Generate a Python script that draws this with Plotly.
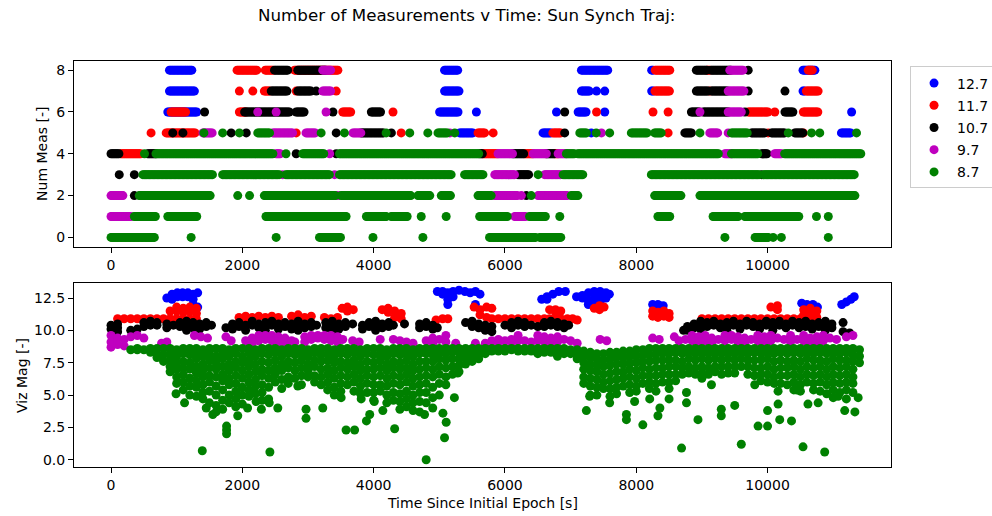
import plotly.graph_objects as go

# Limiting visual magnitudes and their plot colours
MAG_LIMITS = ["12.7", "11.7", "10.7", "9.7", "8.7"]
COLORS = ["#0000ff", "#ff0000", "#000000", "#bf00bf", "#008000"]

# Propagation step of the measurement-count history [s]
TIME_STEP = 20

# Number of measurements: runs of (start time [s], end time [s], count)
COUNT_RUNS_127 = [
    (890, 1245, 8), (5080, 5285, 8), (7165, 7570, 8), (8235, 8255, 8), (10540, 10720, 8),
    (890, 1270, 7), (5080, 5310, 7), (7165, 7290, 7), (7395, 7395, 7), (7520, 7520, 7),
    (8235, 8255, 7), (10540, 10560, 7),
    (865, 1320, 6), (5005, 5285, 6), (5565, 5565, 6), (6785, 6785, 6), (7115, 7240, 6),
    (7520, 7520, 6), (11280, 11280, 6),
    (5310, 5515, 5), (6580, 6705, 5), (7315, 7315, 5), (11125, 11280, 5),
]
COUNT_RUNS_117 = [
    (1920, 2225, 8), (2350, 2480, 8), (2795, 3455, 8), (8290, 8510, 8), (9080, 9130, 8),
    (10620, 10680, 8),
    (1955, 1955, 7), (2160, 2160, 7), (2335, 2420, 7), (2820, 2820, 7), (3430, 3430, 7),
    (8285, 8510, 7), (9120, 9120, 7), (10590, 10770, 7),
    (915, 1145, 6), (1955, 2060, 6), (3530, 3660, 6), (4295, 4295, 6), (7395, 7395, 6),
    (8255, 8255, 6), (8485, 8485, 6), (9705, 10010, 6), (10110, 10110, 6), (10545, 10770, 6),
    (610, 610, 5), (840, 1295, 5), (2820, 2820, 5), (4420, 4420, 5), (5590, 5690, 5),
    (5820, 5820, 5), (6730, 6860, 5), (8485, 8485, 5), (10010, 10010, 5), (10545, 10545, 5),
    (150, 460, 4), (5665, 5895, 4), (6300, 6430, 4), (6760, 6810, 4),
]
COUNT_RUNS_107 = [
    (2490, 2690, 8), (2845, 3275, 8), (8915, 9080, 8), (9140, 9440, 8), (9705, 9705, 8),
    (2440, 2690, 7), (2845, 3050, 7), (3125, 3125, 7), (8915, 9095, 7), (9145, 9400, 7),
    (9705, 9705, 7), (10265, 10265, 7),
    (1425, 1425, 6), (2035, 2720, 6), (2820, 2945, 6), (3380, 3380, 6), (3965, 4115, 6),
    (6910, 6910, 6), (8840, 8970, 6), (9020, 9400, 6), (9655, 9655, 6), (10265, 10390, 6),
    (940, 940, 5), (1095, 1095, 5), (1830, 1830, 5), (2060, 2060, 5), (3430, 3430, 5),
    (3810, 4165, 5), (4270, 4270, 5), (6910, 6910, 5), (8740, 8840, 5), (9755, 9960, 5),
    (10060, 10265, 5), (10415, 10545, 5),
    (0, 125, 4), (560, 685, 4), (2820, 2820, 4), (3430, 3430, 4), (5615, 5665, 4),
    (6125, 6300, 4), (6630, 6760, 4), (9910, 9990, 4),
    (125, 125, 3), (355, 355, 3), (6200, 6375, 3), (9910, 9910, 3),
    (355, 355, 2), (6325, 6325, 2),
]
COUNT_RUNS_97 = [
    (3225, 3355, 8), (9425, 9630, 8),
    (3225, 3355, 7), (9400, 9655, 7),
    (2235, 2235, 6), (2515, 2515, 6), (3275, 3275, 6), (8970, 8970, 6), (9400, 9605, 6),
    (1400, 1550, 5), (2465, 2770, 5), (2970, 3125, 5), (3685, 3810, 5), (5160, 5160, 5),
    (7470, 7470, 5), (9120, 9245, 5), (9400, 9400, 5),
    (2515, 2590, 4), (3330, 3330, 4), (5895, 6125, 4), (6430, 6630, 4), (6810, 6935, 4),
    (9350, 9450, 4), (10110, 10210, 4),
    (2615, 2615, 3), (3405, 3405, 3), (5845, 6150, 3), (6605, 6860, 3),
    (0, 180, 2), (3455, 3455, 2), (5845, 6200, 2), (6250, 6250, 2), (6505, 6960, 2),
    (0, 305, 1), (6150, 6325, 1),
]
COUNT_RUNS_87 = [
    (1415, 1415, 5), (1700, 1700, 5), (1955, 1955, 5), (2235, 2415, 5), (3200, 3200, 5),
    (3555, 3555, 5), (4190, 4190, 5), (4550, 4550, 5), (4825, 4825, 5), (4980, 5130, 5),
    (5235, 5235, 5), (7140, 7240, 5), (7390, 7390, 5), (7595, 7595, 5), (7925, 8180, 5),
    (8280, 8385, 5), (8970, 8970, 5), (9450, 9705, 5), (10315, 10315, 5), (10670, 10670, 5),
    (10795, 10795, 5), (11355, 11355, 5),
    (510, 510, 4), (685, 2465, 4), (2665, 2665, 4), (2920, 3250, 4), (3480, 5615, 4),
    (6935, 7060, 4), (7110, 9250, 4), (9450, 9860, 4), (10260, 11430, 4),
    (485, 1550, 3), (1700, 2565, 3), (2665, 3330, 3), (3480, 5185, 3), (5385, 5665, 3),
    (6505, 6505, 3), (6885, 7190, 3), (8230, 9880, 3), (9940, 11330, 3),
    (430, 1525, 2), (1930, 1930, 2), (2110, 2110, 2), (2335, 3430, 2), (3505, 4575, 2),
    (4675, 4855, 2), (5030, 5185, 2), (5590, 5795, 2), (6400, 6400, 2), (7010, 7115, 2),
    (8280, 8690, 2), (8970, 11330, 2),
    (355, 685, 1), (865, 1320, 1), (2360, 3580, 1), (3890, 4190, 1), (4270, 4520, 1),
    (4725, 4725, 1), (5105, 5105, 1), (5615, 6045, 1), (6375, 6630, 1), (6835, 6835, 1),
    (8330, 8510, 1), (9170, 9550, 1), (9655, 10490, 1), (10745, 10745, 1), (10925, 10925, 1),
    (0, 660, 0), (1220, 1220, 0), (2515, 2515, 0), (3175, 3505, 0), (3990, 3990, 0),
    (4750, 4750, 0), (5765, 6480, 0), (6530, 6860, 0), (9350, 9350, 0), (9810, 10010, 0),
    (10085, 10085, 0), (10210, 10210, 0), (10925, 10925, 0),
]

# Visual magnitudes of observed objects: (time [s], "mag mag ...")
VIZ_MAG_127 = [
    (850, "12.5"), (930, "12.8 12.4"), (1010, "12.9 12.6"), (1090, "12.9 12.6"),
    (1170, "12.9 12.6"), (1250, "12.8 12.4 12.0"), (1320, "12.9 11.8"),
    (4970, "13.0"), (5050, "13.0 12.8"), (5130, "12.9 12.4 12.0"), (5210, "13.0 12.6"),
    (5300, "13.1"), (5390, "13.0"), (5470, "12.9"), (5550, "13.0 12.0"), (5620, "12.8"),
    (6560, "12.4"), (6640, "12.6 12.4"), (6730, "12.8"), (6820, "13.0"), (6920, "13.0"),
    (7090, "12.6"), (7180, "12.7 12.5"), (7270, "12.9 12.3 12.0"), (7360, "13.0 12.5 12.1"),
    (7450, "13.0 12.6 12.2"), (7540, "12.9 12.5"), (7590, "12.8"),
    (8250, "12.0"), (8330, "12.0 11.8"), (8410, "11.9"),
    (10520, "12.1"), (10600, "12.0 11.8"), (10690, "12.0"), (10760, "11.8"),
    (11130, "12.0"), (11200, "12.2"), (11270, "12.4"), (11320, "12.6"),
]
VIZ_MAG_117 = [
    (100, "10.9"), (200, "10.9"), (300, "10.9"), (400, "10.9"), (500, "10.9"), (600, "10.9"),
    (700, "10.9"), (800, "10.9"), (900, "11.5 10.9"), (1000, "11.8 11.5 10.9"),
    (1100, "11.7 11.4 10.9"), (1200, "11.8 11.5 10.9"), (1300, "11.7 11.3 10.9"),
    (1950, "11.0"), (2050, "11.1 10.9"), (2150, "11.0"), (2250, "11.1"), (2350, "11.0"),
    (2450, "11.1 10.9"), (2550, "11.0"),
    (2750, "11.1"), (2850, "11.2"), (2950, "11.0"), (3050, "11.1"),
    (3250, "11.0"), (3350, "10.9"), (3450, "11.0"), (3520, "11.7"), (3600, "11.8 11.5"),
    (3690, "11.6"),
    (4130, "11.6"), (4220, "11.7 11.4"), (4320, "11.5 11.0"), (4420, "11.3 10.9"),
    (4950, "10.8"), (5050, "10.9"), (5130, "10.9"),
    (5530, "11.8"), (5620, "11.6 11.2"), (5720, "11.8 11.0"), (5800, "11.7 10.9"),
    (5900, "10.9"), (6000, "10.9"), (6100, "10.9"), (6200, "10.9"), (6300, "10.9"),
    (6400, "10.9"), (6500, "10.9"), (6600, "10.9"), (6680, "11.6 10.9"),
    (6770, "11.6 11.4 10.9"), (6850, "11.5 10.9"), (6950, "10.9"), (7030, "10.9"),
    (7100, "10.8"),
    (7360, "11.7"), (7440, "11.9 11.6"), (7510, "11.8"),
    (8250, "11.5 11.1"), (8330, "11.4 11.0"), (8420, "11.5 11.1"), (8500, "11.3 11.0"),
    (9000, "10.9"), (9100, "10.9"), (9200, "10.9"), (9300, "10.9"), (9400, "10.9"),
    (9500, "10.9"), (9600, "10.9"), (9700, "10.9"), (9800, "10.9"), (9900, "10.9"),
    (10000, "10.9"), (10050, "11.8"), (10100, "10.9"), (10150, "11.9 11.6"), (10200, "10.9"),
    (10300, "10.9"), (10400, "10.9"), (10500, "10.9"), (10550, "11.6 11.2"),
    (10600, "10.9"), (10650, "11.7 11.3"), (10700, "10.9"), (10750, "11.5 11.0"),
]
VIZ_MAG_107 = [
    (0, "10.4 10.1"), (100, "10.5 10.2 9.9"), (300, "10.0"), (400, "10.1"), (500, "10.6 10.3"),
    (600, "10.7 10.4"), (700, "10.6 10.4"), (850, "10.5 10.2"), (950, "10.4"),
    (1050, "10.6 10.3"), (1150, "10.7 10.4 10.0"), (1250, "10.6 10.2"), (1350, "10.5 10.1"),
    (1450, "10.6 10.3"), (1530, "10.4"),
    (1750, "10.2"), (1850, "10.5 10.1"), (1950, "10.6 10.3"), (2050, "10.4 10.0"),
    (2150, "10.7 10.4"), (2250, "10.5 10.2"), (2350, "10.6 10.3 10.0"), (2450, "10.7 10.4"),
    (2550, "10.5 10.1"), (2650, "10.6 10.3"), (2750, "10.5 10.1"), (2850, "10.7 10.4 10.0"),
    (2950, "10.5 10.2"), (3050, "10.6 10.3"), (3130, "10.4"),
    (3270, "10.6 10.2"), (3370, "10.7 10.4 10.0"), (3470, "10.5 10.1"), (3570, "10.6 10.3"),
    (3680, "10.5"),
    (3830, "10.4 10.1"), (3930, "10.6 10.3"), (4030, "10.7 10.4 10.0"), (4130, "10.5 10.2"),
    (4230, "10.6 10.3"), (4300, "10.4"), (4470, "10.5"),
    (4700, "10.5 10.2"), (4800, "10.6 10.3"), (4900, "10.4 10.1"), (4970, "10.2"),
    (5400, "10.6"), (5500, "10.7 10.3"), (5600, "10.5 10.2"), (5700, "10.4 10.0"),
    (5800, "10.3 9.9"),
    (6000, "10.4"), (6100, "10.6 10.2"), (6200, "10.7 10.4"), (6300, "10.6 10.3"),
    (6400, "10.4"), (6500, "10.3"), (6600, "10.6 10.3"), (6700, "10.7 10.4"),
    (6800, "10.6 10.3"), (6900, "10.5 10.2"), (6970, "10.4"),
    (8720, "10.0"), (8780, "10.3 10.0"), (8880, "10.5 10.2"), (8980, "10.7 10.4 10.1"),
    (9080, "10.6 10.3"), (9180, "10.7 10.4"), (9280, "10.5 10.2"), (9380, "10.6 10.3 10.0"),
    (9480, "10.7 10.4"), (9580, "10.5 10.1"), (9680, "10.7 10.4"), (9780, "10.6 10.3"),
    (9880, "10.5 10.1"), (9980, "10.7 10.4"), (10080, "10.6 10.3 10.0"), (10180, "10.7 10.4"),
    (10280, "10.5 10.2"), (10380, "10.7 10.4"), (10480, "10.6 10.2"), (10580, "10.7 10.3"),
    (10680, "10.5 10.1"), (10780, "10.6 10.3"), (10880, "10.7 10.4 10.0"),
    (10980, "10.5 10.2"), (11150, "10.6 9.9"), (11250, "9.8"),
]
VIZ_MAG_97 = [
    (0, "9.6 9.1 8.7"), (100, "9.4 8.9"), (200, "9.3 8.8"), (300, "9.5"), (400, "9.6"),
    (500, "9.4"), (770, "9.0"), (850, "9.1"),
    (1270, "9.6"), (1370, "9.5"), (1470, "9.4"), (1750, "9.5"), (1830, "9.2"),
    (2050, "9.2"), (2150, "9.4 9.0"), (2250, "9.6 9.2"), (2350, "9.6 9.3"), (2450, "9.6 9.2"),
    (2550, "9.5 9.1"), (2650, "9.4 9.0"), (2750, "9.2"), (2800, "9.1"),
    (2950, "9.5 9.1"), (3050, "9.6 9.3"), (3150, "9.6 9.4"), (3250, "9.6 9.3"),
    (3350, "9.6 9.2"), (3450, "9.5 9.1"), (3530, "9.3"), (3680, "9.2"), (3780, "9.1"),
    (4100, "9.3"), (4300, "9.3"), (4400, "9.2"), (4500, "9.1"), (4600, "9.0"),
    (4800, "9.2"), (4900, "9.4 9.0"), (5000, "9.3"), (5100, "9.6 9.1"), (5250, "9.0"),
    (5550, "9.0"), (5700, "9.0"),
    (5800, "9.2"), (5900, "9.3 9.0"), (6000, "9.2"), (6100, "9.3 9.0"), (6200, "9.6 9.2"),
    (6300, "9.2"), (6400, "9.1"), (6500, "9.6 9.2"), (6600, "9.5 9.1"), (6700, "9.4 9.0"),
    (6800, "9.5 9.1"), (6900, "9.3"), (7000, "9.2"), (7100, "9.0"),
    (7450, "9.3"), (7550, "9.2"), (8250, "9.4"), (8350, "9.3"), (8580, "9.5"), (8650, "9.2"),
    (8750, "9.3"), (8850, "9.6 9.2"), (8950, "9.5 9.1"), (9050, "9.6 9.2"), (9150, "9.4 9.0"),
    (9250, "9.3"), (9350, "9.6 9.2"), (9450, "9.6 9.3"), (9550, "9.5 9.1"), (9650, "9.4 9.0"),
    (9750, "9.3"), (9850, "9.6 9.2"), (9950, "9.5 9.1"), (10050, "9.6 9.2"), (10150, "9.4"),
    (10250, "9.3"), (10350, "9.6 9.1"), (10450, "9.3"), (10550, "9.6 9.2"),
    (10650, "9.4 9.0"), (10750, "9.5 9.1"), (10850, "9.6 9.2"), (10950, "9.4"),
    (11050, "9.3"), (11200, "9.5"), (11300, "9.6"),
]
VIZ_MAG_87 = [
    (300, "8.5"), (400, "8.6 8.5"), (500, "8.5"), (600, "8.6 8.3"), (700, "8.6 8.2 7.9"),
    (800, "8.6 8.1 7.6"), (900, "8.6 8.2 7.7 7.2 6.8"), (1000, "8.5 8.0 7.5 7.0 6.4 5.9"),
    (1100, "8.6 8.2 7.6 7.1 6.6 6.0 5.4"), (1200, "8.6 8.1 7.5 7.0 6.3 5.7 5.0"),
    (1300, "8.6 8.3 7.8 7.2 6.7 6.1 5.6 4.9"), (1400, "8.5 8.0 7.4 6.9 6.4 5.8 5.2 4.7"),
    (1500, "8.6 8.2 7.7 7.1 6.5 6.0 5.3 4.4"), (1600, "8.6 8.0 7.5 7.0 6.4 5.7 5.0 4.2 3.7"),
    (1700, "8.6 8.3 7.8 7.2 6.6 6.1 5.4 4.6 3.9"), (1800, "8.5 8.0 7.4 6.9 6.3 5.8 5.0 4.4"),
    (1900, "8.6 8.2 7.6 7.1 6.5 5.9 5.3 4.7 4.1"), (2000, "8.6 8.0 7.5 6.9 6.3 5.6 5.0 4.3"),
    (2100, "8.6 8.3 7.7 7.2 6.6 6.0 5.4 4.9"), (2200, "8.5 8.0 7.4 6.8 6.2 5.7 5.1"),
    (2300, "8.6 8.2 7.6 7.0 6.5 5.8 5.2 4.6"), (2400, "8.6 8.1 7.5 6.9 6.3 5.6 4.7"),
    (2500, "8.6 8.3 7.7 7.1 6.6 6.0"), (2600, "8.5 8.0 7.4 6.9 6.2 5.5"),
    (2700, "8.6 8.2 7.6 7.1 6.4 5.9"), (2800, "8.6 8.1 7.5 6.9 6.3"),
    (2900, "8.6 8.2 7.7 7.1 6.5 5.8"), (3000, "8.5 8.0 7.4 6.9 6.4"),
    (3100, "8.6 8.3 7.7 7.2 6.5 6.0"), (3200, "8.6 8.1 7.6 7.0 6.4 5.8"),
    (3300, "8.6 8.2 7.7 7.1 6.6 6.0 5.4"), (3400, "8.5 8.0 7.5 6.9 6.3 5.6 5.0"),
    (3500, "8.6 8.2 7.6 7.1 6.5 5.9 5.3"), (3600, "8.6 8.1 7.5 7.0 6.4 5.8"),
    (3700, "8.6 8.3 7.7 7.2 6.6 6.0 5.3"), (3800, "8.5 8.0 7.4 6.9 6.3 5.7 5.1"),
    (3900, "8.6 8.2 7.6 7.0 6.5 5.9 5.2"), (4000, "8.6 8.1 7.5 7.0 6.4 5.8 5.2 4.6"),
    (4100, "8.6 8.2 7.7 7.1 6.5 5.8 5.3"), (4200, "8.5 8.0 7.4 6.9 6.3 5.7 5.0 4.4"),
    (4300, "8.6 8.2 7.6 7.1 6.5 5.9 5.2 4.6"), (4400, "8.6 8.1 7.5 7.0 6.4 5.8 5.1 4.5 3.9"),
    (4500, "8.6 8.2 7.7 7.1 6.6 6.0 5.3 4.7 4.1"), (4600, "8.5 8.0 7.4 6.9 6.3 5.7 5.0 4.4 3.8"),
    (4700, "8.6 8.2 7.6 7.0 6.4 5.8 5.2 4.5 3.7"), (4800, "8.6 8.2 7.6 7.1 6.5 5.9 5.2 4.4"),
    (4900, "8.6 8.1 7.6 7.0 6.4 5.6 4.8 4.0"), (5000, "8.6 8.3 7.8 7.2 6.6 5.9 5.0"),
    (5100, "8.6 8.2 7.7 7.1 6.4 5.8"), (5200, "8.6 8.3 7.8 7.2 6.6"),
    (5300, "8.6 8.3 7.8 7.3 6.8"), (5400, "8.6 8.3 7.9 7.4"), (5500, "8.6 8.3 8.0 7.6"),
    (5600, "8.6 8.4 8.1 7.8"), (5700, "8.6 8.4 8.2"), (5800, "8.6 8.4"), (5900, "8.6 8.4"),
    (6000, "8.6 8.4"), (6100, "8.6 8.5"), (6200, "8.6 8.4"), (6300, "8.6 8.4"),
    (6400, "8.6 8.4"), (6500, "8.6 8.4 8.2"), (6600, "8.6 8.3"), (6700, "8.6 8.3"),
    (6800, "8.6 8.3 8.0"), (6900, "8.6 8.2"), (7000, "8.5 8.2"), (7100, "8.5 8.1 7.8"),
    (7200, "8.4 8.0 7.5 7.0 6.4 5.9"), (7300, "8.3 7.9 7.4 6.9 6.3 5.7 5.0"),
    (7400, "8.2 7.8 7.3 6.8 6.2 5.6 5.0"), (7500, "8.2 7.7 7.2 6.6 6.0 5.5"),
    (7600, "8.3 7.8 7.3 6.7 6.1 5.5 4.9"), (7700, "8.3 7.9 7.4 6.8 6.2 5.6 5.1"),
    (7800, "8.4 7.9 7.4 6.8 6.3 5.7"), (7900, "8.4 8.0 7.5 7.0 6.4 5.8 5.2"),
    (8000, "8.5 8.0 7.5 6.9 6.3 5.7 5.3"), (8100, "8.5 8.1 7.6 7.1 6.5 5.9"),
    (8200, "8.6 8.1 7.6 7.0 6.5 6.0 5.5"), (8300, "8.6 8.2 7.7 7.1 6.5 5.9 5.3"),
    (8400, "8.6 8.2 7.7 7.1 6.6 6.0"), (8500, "8.6 8.2 7.7 7.2 6.6 6.0 5.5"),
    (8600, "8.6 8.3 7.7 7.2 6.6 6.1"), (8700, "8.6 8.2 7.6 7.1 6.6"),
    (8800, "8.6 8.3 7.8 7.2 6.7"), (8900, "8.6 8.2 7.7 7.1 6.6"),
    (9000, "8.6 8.3 7.8 7.2 6.7 6.3"), (9100, "8.6 8.2 7.7 7.1 6.6"),
    (9200, "8.6 8.3 7.8 7.2 6.8"), (9300, "8.6 8.2 7.7 7.2 6.6"), (9400, "8.6 8.3 7.8 7.2 6.7"),
    (9500, "8.6 8.2 7.7 7.2 6.7"), (9600, "8.6 8.3 7.8 7.2"), (9700, "8.6 8.2 7.7 7.2 6.6"),
    (9800, "8.6 8.3 7.7 7.1 6.5"), (9900, "8.6 8.2 7.7 7.1 6.6 6.1"),
    (10000, "8.6 8.3 7.8 7.2 6.6 6.0"), (10100, "8.6 8.2 7.6 7.0 6.4 5.9"),
    (10200, "8.6 8.3 7.7 7.1 6.5 5.9"), (10300, "8.6 8.2 7.6 7.1 6.5 5.8"),
    (10400, "8.6 8.3 7.7 7.2 6.6 6.0 5.4"), (10500, "8.6 8.2 7.6 7.0 6.4 5.8 5.3"),
    (10600, "8.6 8.3 7.8 7.2 6.6 6.0"), (10700, "8.6 8.2 7.7 7.1 6.5 5.9 5.4"),
    (10800, "8.6 8.3 7.7 7.2 6.6 6.0 5.3"), (10900, "8.6 8.2 7.6 7.0 6.4 5.8 5.1"),
    (11000, "8.6 8.3 7.8 7.2 6.6 6.0 5.4 4.8"), (11100, "8.6 8.2 7.7 7.1 6.5 5.9 5.2"),
    (11200, "8.6 8.3 7.7 7.2 6.6 6.0 5.4 4.7"), (11300, "8.6 8.1 7.6 7.0 6.4 5.9 5.2"),
    (11400, "8.5 8.0 7.5"),
    # faint passes well below the limit
    (990, "5.1"), (1120, "4.4"), (1390, "0.7"), (1450, "4.0"), (1550, "3.5"),
    (1760, "2.6 2.3 2.0"), (1930, "3.4"), (2080, "4.0"), (2210, "4.5"), (2290, "3.9"),
    (2410, "4.4"), (2420, "0.6"), (2540, "4.0"), (2845, "5.7"), (2970, "3.9 3.2"),
    (3225, "4.0"), (3505, "4.8"), (3580, "2.3"), (3710, "2.3"), (3810, "4.7"), (3890, "3.0"),
    (3940, "3.5"), (4010, "4.5"), (4140, "3.8"), (4320, "2.4"), (4775, "3.5"), (4800, "0.0"),
    (5055, "3.6"), (5080, "1.7"), (5105, "2.9"), (5230, "4.8"), (5280, "6.7"),
    (7240, "3.8"), (7290, "4.9"), (7595, "4.4"), (7850, "3.5 3.1"), (7975, "4.5"),
    (8100, "2.7"), (8205, "4.7"), (8330, "3.4"), (8360, "4.0"), (8500, "4.7"), (8690, "0.9"),
    (8765, "5.2 4.4"), (8940, "3.1"), (9145, "5.8"), (9295, "3.9 3.4"), (9500, "4.2"),
    (9600, "1.2"), (9805, "5.8"), (9855, "2.6"), (10000, "3.8 2.6"), (10160, "5.3 4.3"),
    (10185, "3.1"), (10365, "3.0"), (10440, "5.4"), (10540, "1.0"), (10615, "4.3"),
    (10770, "4.4"), (10870, "0.6"), (11075, "4.9"), (11175, "3.8"), (11330, "3.7"),
    (11380, "4.8"),
]

COUNT_RUNS = [COUNT_RUNS_127, COUNT_RUNS_117, COUNT_RUNS_107, COUNT_RUNS_97, COUNT_RUNS_87]
VIZ_MAGS = [VIZ_MAG_127, VIZ_MAG_117, VIZ_MAG_107, VIZ_MAG_97, VIZ_MAG_87]

X_TICKS = [0, 2000, 4000, 6000, 8000, 10000]
X_TICK_LABELS = ["0", "2000", "4000", "6000", "8000", "10000"]
COUNT_TICKS = [0, 2, 4, 6, 8]
MAG_TICKS = [0.0, 2.5, 5.0, 7.5, 10.0, 12.5]


def expand_runs(runs):
    """Turn (start, end, count) runs into one sample per propagation step."""
    t, n = [], []
    for t0, t1, count in runs:
        k = t0
        while k <= t1:
            t.append(k)
            n.append(count)
            k += TIME_STEP
    return t, n


def expand_columns(cols):
    t, m = [], []
    for tc, mags in cols:
        for v in mags.split():
            t.append(tc)
            m.append(float(v))
    return t, m


FONT = "DejaVu Sans"
fig = go.Figure()

for name, color, runs in zip(MAG_LIMITS, COLORS, COUNT_RUNS):
    t, n = expand_runs(runs)
    fig.add_trace(go.Scatter(
        x=t, y=n, mode="markers", name=name, legendgroup=name,
        marker=dict(color=color, size=9, line=dict(width=0)),
        xaxis="x", yaxis="y", hoverinfo="skip"))

for name, color, cols in zip(MAG_LIMITS, COLORS, VIZ_MAGS):
    t, m = expand_columns(cols)
    fig.add_trace(go.Scatter(
        x=t, y=m, mode="markers", name=name, legendgroup=name, showlegend=False,
        marker=dict(color=color, size=9, line=dict(width=0)),
        xaxis="x2", yaxis="y2", hoverinfo="skip"))

axis_style = dict(
    showline=True, mirror=True, linecolor="#000000", linewidth=1,
    ticks="outside", ticklen=5, tickwidth=1, tickcolor="#000000",
    showgrid=False, zeroline=False,
    tickfont=dict(family=FONT, size=14, color="#000000"),
)

fig.update_layout(
    width=992, height=516,
    paper_bgcolor="white", plot_bgcolor="white",
    margin=dict(l=74, r=101, t=61, b=49, autoexpand=False),
    xaxis=dict(domain=[0, 1], anchor="y", range=[-564, 11880], tickvals=X_TICKS,
               ticktext=X_TICK_LABELS, **axis_style),
    yaxis=dict(domain=[0.5419, 1], anchor="x", range=[-0.46, 8.44], tickvals=COUNT_TICKS,
               **axis_style),
    xaxis2=dict(domain=[0, 1], anchor="y2", range=[-564, 11880], tickvals=X_TICKS,
                ticktext=X_TICK_LABELS, **axis_style),
    yaxis2=dict(domain=[0, 0.4532], anchor="x2", range=[-0.56, 13.66], tickvals=MAG_TICKS,
                tickformat=".1f", **axis_style),
    legend=dict(
        x=1.0233, y=0.9865, xanchor="left", yanchor="top",
        bordercolor="#cccccc", borderwidth=1, bgcolor="white",
        font=dict(family=FONT, size=14, color="#000000"),
        tracegroupgap=1, itemwidth=36,
    ),
    showlegend=True,
    annotations=[
        dict(text="Number of Measurements v Time: Sun Synch Traj:", xref="paper", yref="paper",
             x=0.481, y=1.113, xanchor="center", yanchor="middle", showarrow=False,
             font=dict(family=FONT, size=16.7, color="#000000")),
        dict(text="Num Meas [-]", xref="paper", yref="paper", x=-0.0392, y=0.771,
             xanchor="center", yanchor="middle", textangle=-90, showarrow=False,
             font=dict(family=FONT, size=14, color="#000000")),
        dict(text="Viz Mag [-]", xref="paper", yref="paper", x=-0.0637, y=0.2266,
             xanchor="center", yanchor="middle", textangle=-90, showarrow=False,
             font=dict(family=FONT, size=14, color="#000000")),
        dict(text="Time Since Initial Epoch [s]", xref="paper", yref="paper", x=0.5,
             y=-0.0887, xanchor="center", yanchor="middle", showarrow=False,
             font=dict(family=FONT, size=14, color="#000000")),
    ],
)

fig.write_html("out.html")
